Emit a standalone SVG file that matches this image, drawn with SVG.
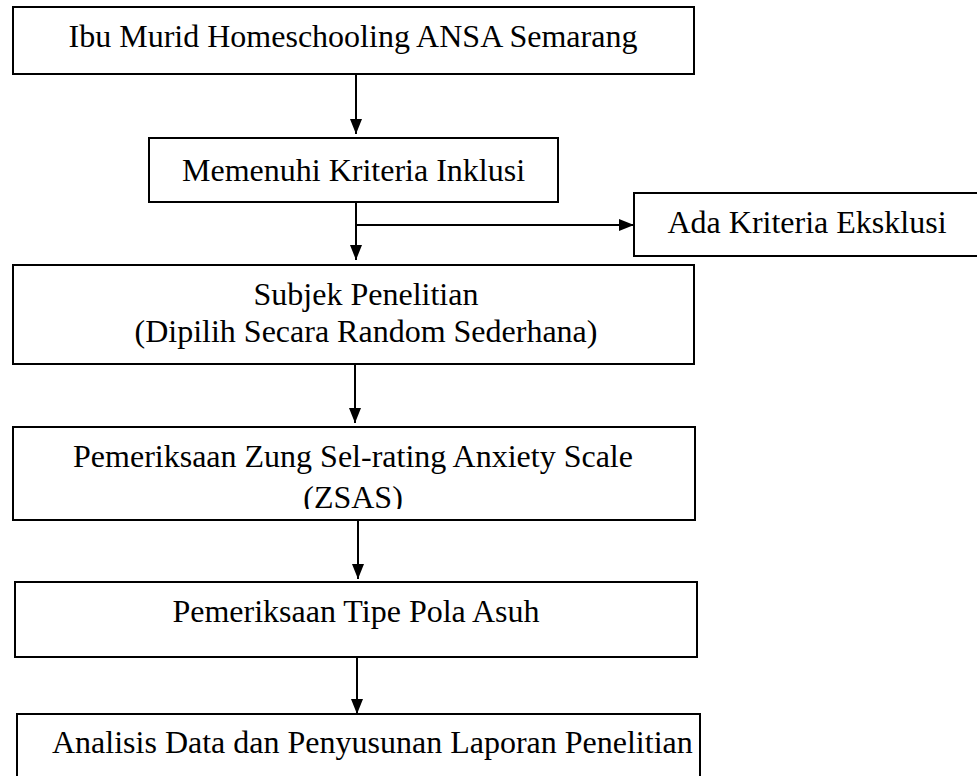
<svg xmlns="http://www.w3.org/2000/svg" width="977" height="776" viewBox="0 0 977 776">
<style>
.box{fill:#fff;stroke:#000;stroke-width:2}
.t{font-family:"Liberation Serif","Times New Roman",serif;font-size:32px;fill:#000}
.c{text-anchor:middle}
.con{stroke:#000;stroke-width:2;fill:none}
</style>
<defs>
<marker id="ah" markerUnits="userSpaceOnUse" markerWidth="15" markerHeight="12" refX="15" refY="6" orient="auto">
<path d="M0,0 L15,6 L0,12 z" fill="#000"/>
</marker>
<clipPath id="clip4"><rect x="14" y="428" width="680" height="81"/></clipPath>
</defs>
<rect width="977" height="776" fill="#fff"/>
<g id="connectors">
<line class="con" x1="356" y1="75" x2="356" y2="134" marker-end="url(#ah)"/>
<line class="con" x1="356" y1="202" x2="356" y2="260" marker-end="url(#ah)"/>
<line class="con" x1="356" y1="225" x2="634" y2="225" marker-end="url(#ah)"/>
<line class="con" x1="355" y1="364" x2="355" y2="423" marker-end="url(#ah)"/>
<line class="con" x1="358" y1="520" x2="358" y2="579" marker-end="url(#ah)"/>
<line class="con" x1="357" y1="657" x2="357" y2="714" marker-end="url(#ah)"/>
</g>
<g id="n1">
<rect class="box" x="13" y="7" width="681" height="67"/>
<text class="t c" x="353" y="47">Ibu Murid Homeschooling ANSA Semarang</text>
</g>
<g id="n2">
<rect class="box" x="149" y="138" width="409" height="64"/>
<text class="t c" x="353.5" y="181">Memenuhi Kriteria Inklusi</text>
</g>
<g id="n3">
<rect class="box" x="634" y="193" width="346" height="63"/>
<text class="t c" x="807" y="233">Ada Kriteria Eksklusi</text>
</g>
<g id="n4">
<rect class="box" x="13" y="265" width="681" height="99"/>
<text class="t c" x="366" y="305">Subjek Penelitian</text>
<text class="t c" x="366" y="342">(Dipilih Secara Random Sederhana)</text>
</g>
<g id="n5">
<rect class="box" x="13" y="427" width="682" height="93"/>
<g clip-path="url(#clip4)">
<text class="t c" x="353" y="467">Pemeriksaan Zung Sel-rating Anxiety Scale</text>
<text class="t c" x="353" y="508">(ZSAS)</text>
</g>
</g>
<g id="n6">
<rect class="box" x="15" y="582" width="682" height="75"/>
<text class="t c" x="356" y="622">Pemeriksaan Tipe Pola Asuh</text>
</g>
<g id="n7">
<rect class="box" x="17" y="714" width="683" height="70"/>
<text class="t" x="52" y="753">Analisis Data dan Penyusunan Laporan Penelitian</text>
</g>
</svg>
